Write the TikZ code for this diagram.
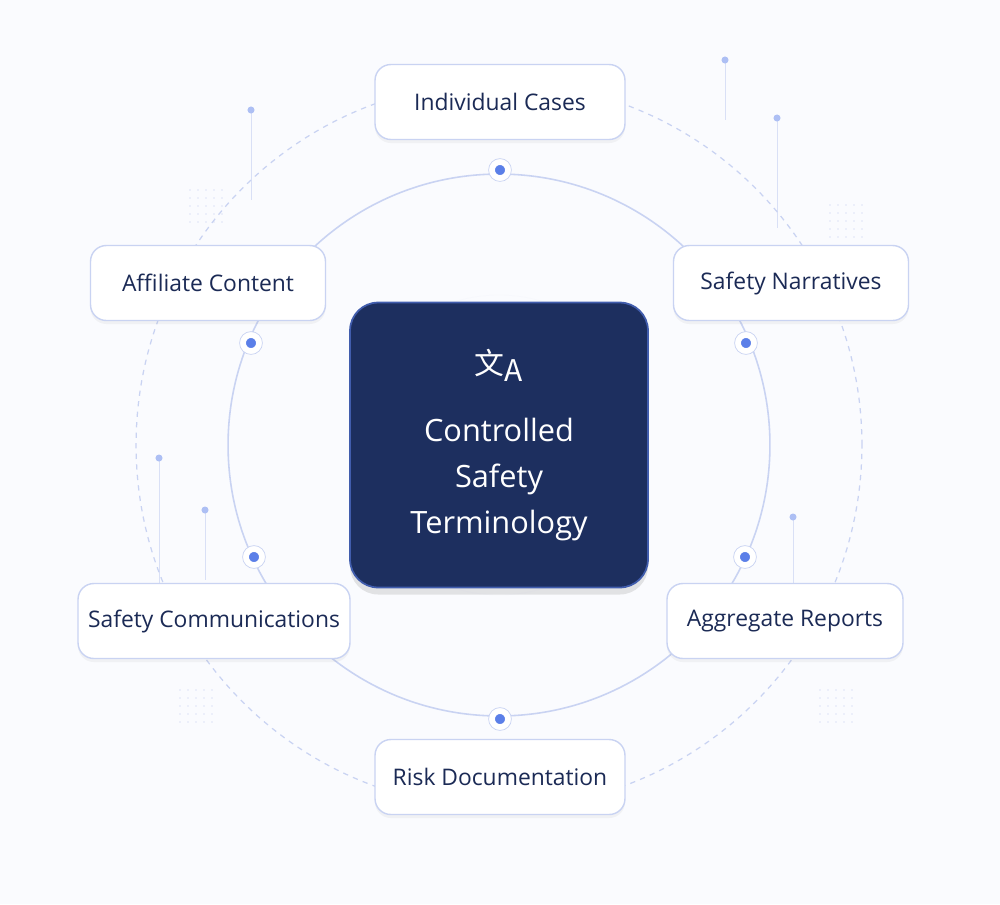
\documentclass[tikz,border=0pt]{standalone}
\usepackage{fontspec}
\setmainfont{Open Sans}
\newfontfamily\cjk{Noto Sans CJK SC}
\usetikzlibrary{shadows}
\definecolor{navy}{HTML}{1B2A55}
\definecolor{boxnavy}{HTML}{1D2F5F}
\definecolor{ringblue}{HTML}{C9D3F2}
\definecolor{dotblue}{HTML}{5B7FE8}
\definecolor{bgpale}{HTML}{FAFBFE}
\tikzset{
  topic/.style={draw=ringblue, line width=0.8pt, fill=white, rounded corners=9pt,
    minimum width=5cm, minimum height=1.5cm, text=navy, font=\fontsize{13}{15}\selectfont,
    drop shadow={opacity=0.08, shadow xshift=0pt, shadow yshift=-2pt}},
  hub/.style={draw=dotblue!60!navy, line width=1pt, fill=boxnavy, rounded corners=16pt,
    minimum width=5.96cm, minimum height=5.7cm, text=white, align=center,
    font=\fontsize{17.5}{26}\selectfont,
    drop shadow={opacity=0.2, shadow xshift=0pt, shadow yshift=-4pt}},
  pin/.style={circle, fill=dotblue, draw=white, line width=1.2pt, inner sep=0pt, minimum size=7pt},
  pinring/.style={circle, draw=ringblue, fill=white, inner sep=0pt, minimum size=13pt},
  deco/.style={draw=ringblue!70, line width=0.5pt}
}
\begin{document}
\begin{tikzpicture}[x=0.02cm,y=-0.02cm]
  \fill[bgpale] (0,0) rectangle (1000,904);
  \useasboundingbox (0,0) rectangle (1000,904);

  % faint background sticks
  \foreach \px/\py/\pl in {251/110/90, 777/118/110, 159/458/130, 793/517/80, 725/60/60, 205/510/70}{
    \draw[deco] (\px,\py) -- (\px,\py+\pl);
    \fill[dotblue!50] (\px,\py) circle (2pt);
  }
  \foreach \px/\py in {190/190, 830/205, 180/690, 820/690}{
    \foreach \i in {0,...,4}{\foreach \j in {0,...,4}{
      \fill[ringblue!60] (\px+\i*8,\py+\j*8) circle (0.5pt);}}
  }

  % rings
  \coordinate (mid) at (499,445);
  \foreach \r/\o in {1.2/0.15,1.8/0.12,2.4/0.09,3.0/0.06}
    \draw[ringblue, opacity=\o] (mid) circle (\r cm);
  \draw[ringblue, dashed, line width=0.7pt] (mid) circle (7.26cm);
  \draw[ringblue, line width=0.9pt] (mid) circle (5.42cm);

  % pins on the inner ring
  \foreach \name/\px/\py in {pa/500/170, pb/251/343, pc/746/343, pd/254/557, pe/745/557, pf/500/719}{
    \node[pinring] at (\px,\py) {};
    \node[pin] (\name) at (\px,\py) {};
  }

  % topics
  \node[topic] (cases) at (500,102) {Individual Cases};
  \node[topic, minimum width=4.7cm] (affil) at (208,283) {Affiliate Content};
  \node[topic, minimum width=4.7cm] (narr) at (791,283) {Safety Narratives};
  \node[topic, minimum width=5.44cm] (comm) at (214,621) {Safety Communications};
  \node[topic, minimum width=4.72cm] (aggr) at (785,621) {Aggregate Reports};
  \node[topic] (risk) at (500,777) {Risk Documentation};

  % hub
  \node[hub] (term) at (mid) {{\cjk\fontsize{17}{17}\selectfont 文\raisebox{-0.4ex}{A}}\\[12pt]Controlled\\Safety\\Terminology};
\end{tikzpicture}
\end{document}
